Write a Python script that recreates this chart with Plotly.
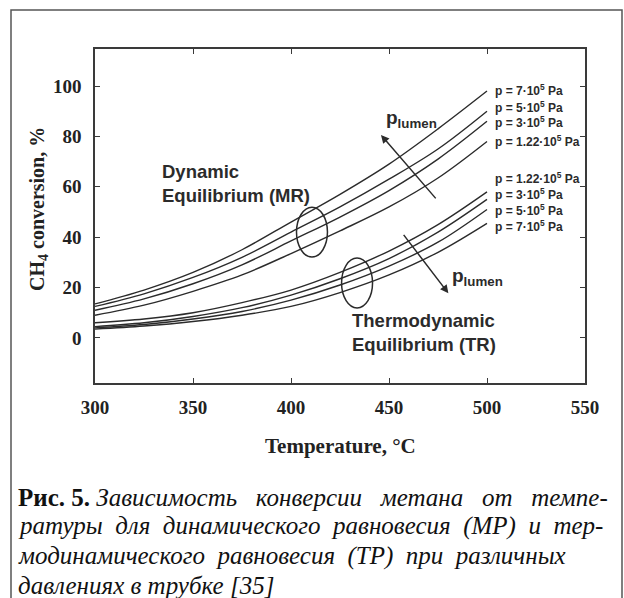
import plotly.graph_objects as go

# ---------------- data ----------------
temperature = [300, 325, 350, 375, 400, 425, 450, 475, 500]

mr_p7 = [13.5, 19.0, 26.0, 35.0, 46.0, 57.0, 69.0, 83.0, 98.0]
mr_p5 = [12.5, 17.5, 24.0, 32.0, 42.0, 52.0, 63.0, 75.0, 90.0]
mr_p3 = [11.0, 15.5, 21.5, 29.0, 38.5, 48.0, 58.5, 71.0, 86.0]
mr_p122 = [9.0, 13.0, 18.5, 25.0, 33.5, 42.5, 52.0, 63.5, 78.0]

tr_p122 = [6.0, 7.5, 10.0, 14.0, 19.0, 26.0, 34.5, 45.0, 58.0]
tr_p3 = [4.5, 6.0, 8.5, 12.0, 17.0, 23.5, 31.5, 42.0, 55.0]
tr_p5 = [4.0, 5.3, 7.5, 10.5, 15.0, 21.0, 28.5, 38.0, 51.0]
tr_p7 = [3.5, 4.7, 6.5, 9.0, 12.5, 18.0, 25.0, 34.0, 45.5]

mr_labels = ["p = 7·10<sup>5</sup> Pa", "p = 5·10<sup>5</sup> Pa",
             "p = 3·10<sup>5</sup> Pa", "p = 1.22·10<sup>5</sup> Pa"]
tr_labels = ["p = 1.22·10<sup>5</sup> Pa", "p = 3·10<sup>5</sup> Pa",
             "p = 5·10<sup>5</sup> Pa", "p = 7·10<sup>5</sup> Pa"]

x_ticks = [300, 350, 400, 450, 500, 550]
y_ticks = [0, 20, 40, 60, 80, 100]

caption_words = [
    ["Зависимость", "конверсии", "метана", "от", "темпе-"],
    ["ратуры", "для", "динамического", "равновесия", "(МР)", "и", "тер-"],
    ["модинамического", "равновесия", "(ТР)", "при", "различных"],
    ["давлениях", "в", "трубке", "[35]"],
]
caption_prefix = "Рис. 5."

# ---------------- layout helpers (pixel -> paper) ----------------
W, H = 624, 598
L, R, T, B = 95, 585, 49, 383


def px(x):
    return (x - L) / (R - L)


def py(y):
    return (B - y) / (B - T)


LINE = "#2b2b2b"
FRAME = "#3a3a3a"
SANS = "Liberation Sans, Arial, sans-serif"
SERIF = "Liberation Serif, Times New Roman, serif"

fig = go.Figure()
for ys in [mr_p7, mr_p5, mr_p3, mr_p122, tr_p122, tr_p3, tr_p5, tr_p7]:
    fig.add_trace(go.Scatter(x=temperature, y=ys, mode="lines",
                             line=dict(color=LINE, width=1.4, shape="spline"),
                             showlegend=False, hoverinfo="skip"))

axis_common = dict(showline=True, linecolor=FRAME, linewidth=1.6, mirror="ticks",
                   ticks="inside", ticklen=5, tickwidth=1.4, tickcolor=FRAME,
                   showgrid=False, zeroline=False,
                   tickfont=dict(family=SERIF, size=19, color="#222"))

fig.update_layout(
    width=W, height=H,
    margin=dict(l=L, r=W - R, t=T, b=H - B),
    paper_bgcolor="white", plot_bgcolor="white",
    xaxis=dict(range=[300, 550], tickvals=x_ticks,
               ticktext=[f"<b>{v}</b>" for v in x_ticks],
               ticklabelstandoff=6, **axis_common),
    yaxis=dict(range=[-17.9, 114.7], tickvals=y_ticks,
               ticktext=[f"<b>{v}</b>" for v in y_ticks],
               ticklabelstandoff=8, **axis_common),
)

ann = []
# axis titles
ann.append(dict(text="<b>Temperature, °C</b>", xref="paper", yref="paper",
                x=px(340), y=py(446), showarrow=False, xanchor="center", yanchor="middle",
                font=dict(family=SERIF, size=21, color="#222")))
ann.append(dict(text="<b>CH<sub>4</sub> conversion, %</b>", xref="paper", yref="paper",
                x=px(38), y=py(209), showarrow=False, textangle=-90,
                xanchor="center", yanchor="middle",
                font=dict(family=SERIF, size=20, color="#222")))

# curve labels at right
mr_label_y = [90, 106.7, 122, 141]
tr_label_y = [178, 194, 210, 225.7]
for txt, yy in zip(mr_labels + tr_labels, mr_label_y + tr_label_y):
    ann.append(dict(text=f"<b>{txt}</b>", xref="paper", yref="paper",
                    x=px(493), y=py(yy), showarrow=False, xanchor="left", yanchor="middle",
                    font=dict(family=SANS, size=12, color="#2b2b2b")))

# group labels
ann.append(dict(text="<b>Dynamic<br>Equilibrium (MR)</b>", xref="paper", yref="paper",
                x=px(160), y=py(183), showarrow=False, xanchor="left", yanchor="middle",
                align="left", font=dict(family=SANS, size=18.5, color="#2b2b2b")))
ann.append(dict(text="<b>Thermodynamic<br>Equilibrium (TR)</b>", xref="paper", yref="paper",
                x=px(350), y=py(332), showarrow=False, xanchor="left", yanchor="middle",
                align="left", font=dict(family=SANS, size=18.5, color="#2b2b2b")))

# p_lumen labels
ann.append(dict(text="<b>p<sub>lumen</sub></b>", xref="paper", yref="paper",
                x=px(384), y=py(119), showarrow=False, xanchor="left", yanchor="middle",
                font=dict(family=SANS, size=19, color="#2b2b2b")))
ann.append(dict(text="<b>p<sub>lumen</sub></b>", xref="paper", yref="paper",
                x=px(450), y=py(277), showarrow=False, xanchor="left", yanchor="middle",
                font=dict(family=SANS, size=19, color="#2b2b2b")))

# arrows (data coords)
ann.append(dict(x=445.9, y=80.6, ax=474.5, ay=54.8, xref="x", yref="y",
                axref="x", ayref="y", text="", showarrow=True, arrowhead=2,
                arrowsize=1.1, arrowwidth=1.5, arrowcolor=LINE, standoff=0))
ann.append(dict(x=480.3, y=17.7, ax=456.9, ay=41.5, xref="x", yref="y",
                axref="x", ayref="y", text="", showarrow=True, arrowhead=2,
                arrowsize=1.1, arrowwidth=1.5, arrowcolor=LINE, standoff=0))

# caption (justified lines emulated with wider spaces)
EN = "\u2002"
gaps = [EN + " ", EN, EN, " "]
cap_y = [497, 526, 556, 585]
for i, (words, gap, yy) in enumerate(zip(caption_words, gaps, cap_y)):
    body = "<i>" + gap.join(words) + "</i>"
    if i == 0:
        body = f"<b>{caption_prefix}</b> " + body
    ann.append(dict(text=body, xref="paper", yref="paper", x=px(16), y=py(yy),
                    showarrow=False, xanchor="left", yanchor="middle",
                    font=dict(family=SERIF, size=25, color="#111")))

fig.update_layout(annotations=ann)

shapes = []
# ellipses
shapes.append(dict(type="circle", xref="x", yref="y", x0=402.8, x1=418.6, y0=32.1, y1=51.9,
                   line=dict(color=LINE, width=1.5)))
shapes.append(dict(type="circle", xref="x", yref="y", x0=425.8, x1=441.6, y0=11.9, y1=31.7,
                   line=dict(color=LINE, width=1.5)))
# outer frame
shapes.append(dict(type="rect", xref="paper", yref="paper",
                   x0=px(11), x1=px(622), y0=py(610), y1=py(10),
                   line=dict(color="#555", width=1.5)))
fig.update_layout(shapes=shapes)

fig.write_html("out.html")
